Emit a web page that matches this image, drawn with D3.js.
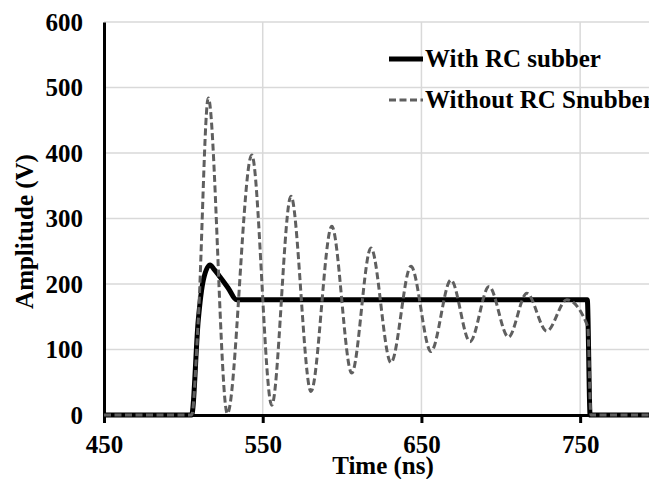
<!DOCTYPE html>
<html><head><meta charset="utf-8">
<script src="https://cdn.jsdelivr.net/npm/d3@7"></script>
<style>body{margin:0;background:#fff}svg{display:block}</style>
</head><body>
<script>
// ---- data ----
const xTicks = [450, 550, 650, 750];
const yTicks = [0, 100, 200, 300, 400, 500, 600];
const seriesNames = ["With RC subber", "Without RC Snubber"];

const withTime  = [450, 505.2, 509.4, 512.6, 516.8, 519.5, 523, 528.2, 533.5, 560, 600, 650, 700, 754.5, 756.3, 800];
const withValue = [0,   0,     145,   206,   229,   222,   211, 194,   176,   176, 176, 176, 176, 176,   0,     0];

const withoutTime  = [450, 505.2, 509.4, 515.7, 527.7, 543.1, 555.7, 567.8, 580.4, 593.5, 606.1, 618.2, 630.8, 643.4, 656.0, 668.6, 680.6, 692.6, 704.8, 716.4, 729.0, 741.6, 754.8, 756.8, 800];
const withoutValue = [0,   0,     145,   484,   2,     397,   15,    334,   36,    288,   64,    255,   80,    227,   97,    206,   112,   196,   119,   186,   128,   176,   135,   0,     0];

// ---- layout ----
const W = 649, H = 479;
const mLeft = 104, mBottom = 415, mTop = 22, mRight = 659.5;
const svg = d3.select("body").append("svg").attr("width", W).attr("height", H);
const x = d3.scaleLinear().domain([450, 800]).range([mLeft, mRight]);
const y = d3.scaleLinear().domain([0, 600]).range([mBottom, mTop]);
const font = "'Liberation Serif','Times New Roman',serif";

// gridlines
svg.append("g").selectAll("line").data(yTicks.filter(d => d > 0)).join("line")
  .attr("x1", mLeft).attr("x2", mRight).attr("y1", d => y(d)).attr("y2", d => y(d))
  .attr("stroke", "#d9d9d9").attr("stroke-width", 1.5);
svg.append("g").selectAll("line").data(xTicks.filter(d => d > 450)).join("line")
  .attr("x1", d => x(d)).attr("x2", d => x(d)).attr("y1", mTop).attr("y2", mBottom)
  .attr("stroke", "#d9d9d9").attr("stroke-width", 1.5);

// y axis
const yAxis = svg.append("g").attr("transform", `translate(${mLeft},0)`)
  .call(d3.axisLeft(y).tickValues(yTicks).tickSize(0).tickPadding(21).tickSizeOuter(0));
yAxis.select(".domain").attr("stroke", "#000").attr("stroke-width", 3);
yAxis.selectAll("text").attr("font-family", font).attr("font-weight", "bold")
  .attr("font-size", 25).attr("fill", "#000").attr("dy", "0.33em");

// x axis
const xAxis = svg.append("g").attr("transform", `translate(0,${mBottom})`)
  .call(d3.axisBottom(x).tickValues(xTicks).tickSize(8).tickPadding(12).tickSizeOuter(0));
xAxis.select(".domain").attr("stroke", "#000").attr("stroke-width", 3);
xAxis.selectAll(".tick line").attr("stroke", "#000").attr("stroke-width", 3);
xAxis.selectAll("text").attr("font-family", font).attr("font-weight", "bold")
  .attr("font-size", 25).attr("fill", "#000");

// titles
svg.append("text").attr("x", 383).attr("y", 474)
  .attr("text-anchor", "middle").attr("font-family", font).attr("font-weight", "bold")
  .attr("font-size", 25).text("Time (ns)");
svg.append("text").attr("transform", "translate(33,231.5) rotate(-90)")
  .attr("text-anchor", "middle").attr("font-family", font).attr("font-weight", "bold")
  .attr("font-size", 25).text("Amplitude (V)");

// series
const line = d3.line().x(d => x(d[0])).y(d => y(d[1])).curve(d3.curveMonotoneX);
const withData = withTime.map((t, i) => [t, withValue[i]]);
const withoutData = withoutTime.map((t, i) => [t, withoutValue[i]]);

svg.append("path").datum(withData).attr("d", line).attr("fill", "none")
  .attr("stroke", "#000").attr("stroke-width", 5).attr("stroke-linejoin", "round");
svg.append("path").datum(withoutData).attr("d", line).attr("fill", "none")
  .attr("stroke", "#5f5f5f").attr("stroke-width", 3).attr("stroke-dasharray", "7,3.5");

// legend
const legend = svg.append("g");
const legY = [59, 100];
legend.append("line").attr("x1", 389).attr("x2", 423).attr("y1", legY[0]).attr("y2", legY[0])
  .attr("stroke", "#000").attr("stroke-width", 5);
legend.append("line").attr("x1", 389).attr("x2", 423).attr("y1", legY[1]).attr("y2", legY[1])
  .attr("stroke", "#5f5f5f").attr("stroke-width", 3).attr("stroke-dasharray", "7,3.5");
legend.selectAll("text").data(seriesNames).join("text")
  .attr("x", 425).attr("y", (d, i) => legY[i] + 8)
  .attr("font-family", font).attr("font-weight", "bold").attr("font-size", 25)
  .attr("fill", "#000").text(d => d);
</script>
</body></html>
